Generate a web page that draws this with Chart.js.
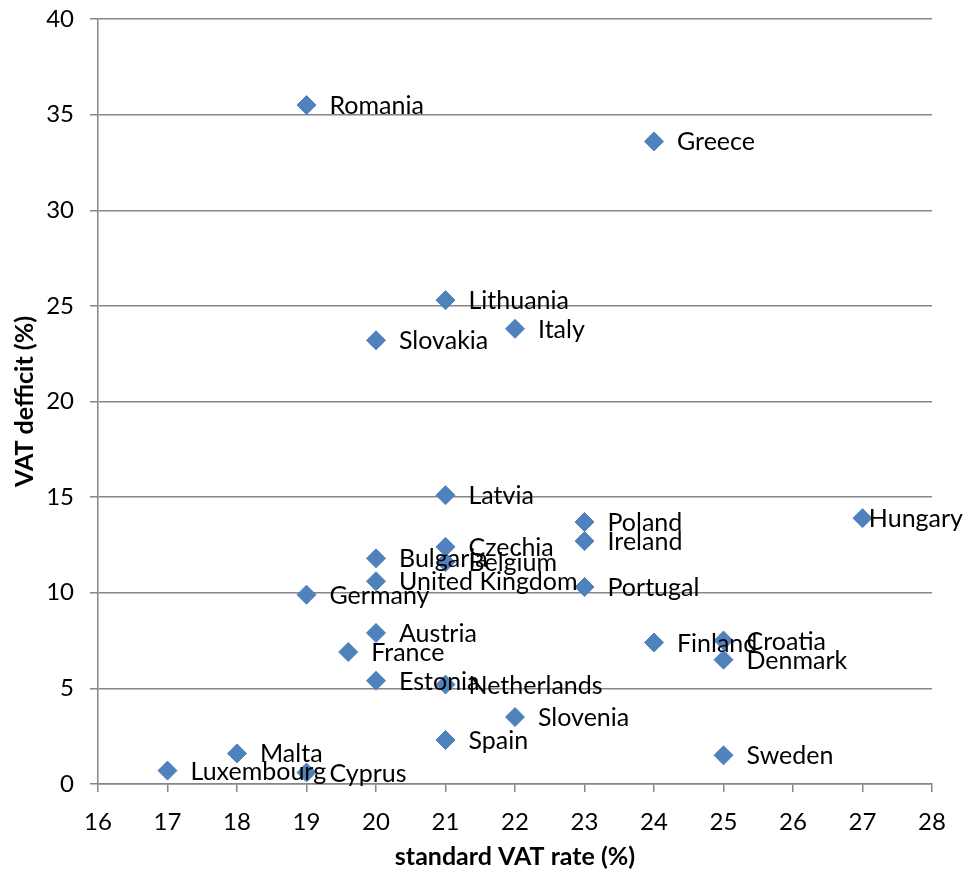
<!DOCTYPE html>
<html>
<head>
<meta charset="utf-8">
<script src="https://cdn.jsdelivr.net/npm/chart.js@4/dist/chart.umd.min.js"></script>
<style>
  body { margin: 0; background: #fff; }
  #wrap { width: 969px; height: 872px; }
</style>
</head>
<body>
<div id="wrap"><canvas id="chart"></canvas></div>
<script>
// one entry per member state
const countries = ["Romania", "Greece", "Lithuania", "Italy", "Slovakia", "Latvia", "Hungary", "Poland",
  "Ireland", "Czechia", "Bulgaria", "Belgium", "United Kingdom", "Portugal", "Germany", "Austria",
  "Finland", "Croatia", "France", "Denmark", "Estonia", "Netherlands", "Slovenia", "Spain",
  "Malta", "Sweden", "Luxembourg", "Cyprus"];
const vatRate = [19, 24, 21, 22, 20, 21, 27, 23,
  23, 21, 20, 21, 20, 23, 19, 20,
  24, 25, 19.6, 25, 20, 21, 22, 21,
  18, 25, 17, 19];
const vatDeficit = [35.5, 33.6, 25.3, 23.8, 23.2, 15.1, 13.9, 13.7,
  12.7, 12.4, 11.8, 11.6, 10.6, 10.3, 9.9, 7.9,
  7.4, 7.5, 6.9, 6.5, 5.4, 5.2, 3.5, 2.3,
  1.6, 1.5, 0.7, 0.6];

const axisGray = "#868686";

// country names to the right of each marker, pushed back in if they would run off the edge
const pointLabels = {
  id: "pointLabels",
  afterDatasetsDraw(chart) {
    const ctx = chart.ctx;
    const meta = chart.getDatasetMeta(0);
    ctx.save();
    ctx.font = "25px Lato";
    ctx.fillStyle = "#000";
    ctx.textBaseline = "middle";
    meta.data.forEach((pt, i) => {
      const w = ctx.measureText(countries[i]).width;
      let x = pt.x + 23;
      if (x + w > chart.width - 6) x = chart.width - 6 - w;
      ctx.fillText(countries[i], x, pt.y + 1);
    });
    ctx.restore();
  }
};

const ctx = document.getElementById("chart").getContext("2d");
new Chart(ctx, {
  type: "scatter",
  data: {
    datasets: [{
      data: vatRate.map((x, i) => ({ x, y: vatDeficit[i] })),
      pointStyle: "rectRot",
      pointRadius: 9.5,
      pointHoverRadius: 9.5,
      backgroundColor: "#4F81BD",
      borderColor: "#4F81BD",
      borderWidth: 1
    }]
  },
  options: {
    responsive: true,
    maintainAspectRatio: false,
    animation: false,
    layout: { padding: { left: 10, top: 19, right: 37, bottom: 0 } },
    plugins: {
      legend: { display: false },
      tooltip: { enabled: false }
    },
    scales: {
      x: {
        type: "linear",
        min: 16,
        max: 28,
        afterFit: (s) => { s.height = 88; s.paddingLeft = 0; s.paddingRight = 0; },
        ticks: { stepSize: 1, color: "#000", font: { family: "Lato", size: 24 }, padding: 16 },
        grid: { drawOnChartArea: false, drawTicks: true, tickLength: 8, color: axisGray, lineWidth: 1.5 },
        border: { color: axisGray, width: 1.5 },
        title: {
          display: true,
          text: "standard VAT rate (%)",
          color: "#000",
          font: { family: "Lato", size: 25, weight: "bold" },
          padding: 0
        }
      },
      y: {
        min: 0,
        max: 40,
        afterFit: (s) => { s.width = 88; s.paddingTop = 0; s.paddingBottom = 0; },
        ticks: { stepSize: 5, color: "#000", font: { family: "Lato", size: 24 }, padding: 16 },
        grid: { tickLength: 8, color: axisGray, lineWidth: 1.5 },
        border: { color: axisGray, width: 1.5 },
        title: {
          display: true,
          text: "VAT defficit (%)",
          color: "#000",
          font: { family: "Lato", size: 25, weight: "bold" },
          padding: 0
        }
      }
    }
  },
  plugins: [pointLabels]
});
</script>
</body>
</html>
